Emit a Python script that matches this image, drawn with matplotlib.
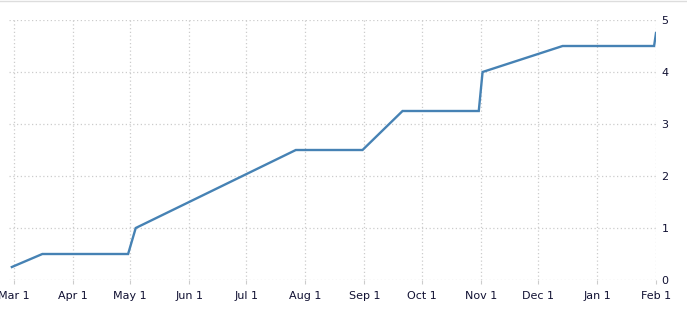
import matplotlib
matplotlib.use("Agg")
import matplotlib.pyplot as plt
import matplotlib.dates as mdates
import numpy as np
import datetime as dt

dates = ["2022-02-28", "2022-03-16", "2022-04-30", "2022-05-04", "2022-07-27",
         "2022-08-31", "2022-09-21", "2022-10-31", "2022-11-02", "2022-12-14",
         "2023-01-31", "2023-02-01"]
values = [0.25, 0.5, 0.5, 1.0, 2.5, 2.5, 3.25, 3.25, 4.0, 4.5, 4.5, 4.75]
tick_dates = ["2022-03-01", "2022-04-01", "2022-05-01", "2022-06-01", "2022-07-01",
              "2022-08-01", "2022-09-01", "2022-10-01", "2022-11-01", "2022-12-01",
              "2023-01-01", "2023-02-01"]
tick_labels = ["Mar 1", "Apr 1", "May 1", "Jun 1", "Jul 1", "Aug 1", "Sep 1",
               "Oct 1", "Nov 1", "Dec 1", "Jan 1", "Feb 1"]
y_ticks = [0, 1, 2, 3, 4, 5]

x = [dt.datetime.strptime(d, "%Y-%m-%d") for d in dates]
xt = [dt.datetime.strptime(d, "%Y-%m-%d") for d in tick_dates]

fig = plt.figure(figsize=(6.87, 3.22), dpi=100)
ax = fig.add_axes([9/687, 42/322, (656-9)/687, (280-20)/322])
ax.plot(x, values, color="#4682b4", lw=1.7, solid_joinstyle="miter")

ax.set_xlim(dt.datetime(2022, 2, 26, 12), dt.datetime(2023, 2, 1))
ax.set_ylim(0, 5)
ax.set_xticks(xt)
ax.set_xticklabels(tick_labels)
ax.set_yticks(y_ticks)
ax.set_yticklabels([str(v) for v in y_ticks])
ax.yaxis.tick_right()
ax.tick_params(axis="x", length=3, color="#cccccc", pad=5, labelsize=8, labelcolor="#111133")
ax.tick_params(axis="y", length=0, pad=4, labelsize=8, labelcolor="#111133")
ax.grid(True, color="#cccccc", linestyle=(0, (1, 2)), linewidth=0.9)
for s in ax.spines.values():
    s.set_visible(False)
ax.set_axisbelow(True)

fig.add_artist(plt.Line2D([0, 1], [1 - 0.5/322, 1 - 0.5/322], transform=fig.transFigure,
                          color="#dddddd", lw=1))
fig.savefig("out.png", dpi=100)
